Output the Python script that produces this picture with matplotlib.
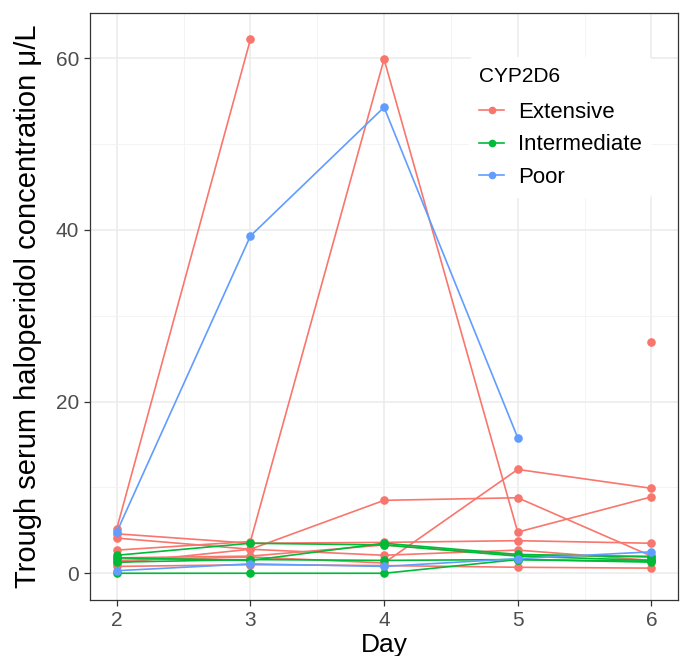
import numpy as np
import matplotlib
matplotlib.use("Agg")
import matplotlib.pyplot as plt
from matplotlib.lines import Line2D

plt.rcParams['font.family'] = ['Liberation Sans', 'DejaVu Sans']

days = [2, 3, 4, 5, 6]
nan = np.nan

# one row per patient, values at days 2..6 (nan = not measured)
extensive = [
    [5.2, 62.2, nan, nan, nan],
    [4.6, 3.5, 3.6, 3.8, 3.5],
    [4.1, 2.8, 8.5, 8.8, 2.0],
    [2.7, 3.7, 59.9, 4.8, 8.9],
    [1.5, 1.9, 1.2, 12.1, 9.9],
    [1.2, 2.8, 2.1, 2.7, 1.5],
    [0.8, 1.0, 0.9, 0.7, 0.6],
    [1.8, 2.0, 3.3, 2.1, 2.0],
    [nan, nan, nan, nan, 27.0],
]
intermediate = [
    [2.1, 3.5, 3.3, 2.0, 1.5],
    [1.8, 1.5, 3.5, 2.2, 1.9],
    [1.3, 1.6, 1.5, 1.6, 1.4],
    [0.0, 0.0, 0.0, 1.6, 1.3],
]
poor = [
    [4.8, 39.3, 54.3, 15.8, nan],
    [0.3, 1.1, 0.8, 1.7, 2.5],
]

groups = ["Extensive", "Intermediate", "Poor"]
colors = ["#F8766D", "#00BA38", "#619CFF"]
yticks = [0, 20, 40, 60]

fig = plt.figure(figsize=(6.83, 6.56), dpi=100)
ax = fig.add_axes([0.1318, 0.0854, 0.861, 0.895])

for rows, col in zip([extensive, intermediate, poor], colors):
    for r in rows:
        ax.plot(days, r, color=col, lw=1.2, marker='o', ms=6.2, mec='none', zorder=3)

ax.set_xlim(1.8, 6.2)
ax.set_ylim(-3.11, 65.3)
ax.set_xticks(days)
ax.set_yticks(yticks)
ax.set_xticks(np.arange(2.5, 6, 1), minor=True)
ax.set_yticks([10, 30, 50], minor=True)
ax.grid(True, which='major', color='#EBEBEB', lw=1.1, zorder=0)
ax.grid(True, which='minor', color='#F2F2F2', lw=0.6, zorder=0)
ax.tick_params(which='minor', length=0)
ax.tick_params(which='major', length=4, width=0.9, color='#333333',
               labelsize=15, labelcolor='#4D4D4D', pad=4)
for s in ax.spines.values():
    s.set_color('#333333')
    s.set_linewidth(0.9)
ax.set_axisbelow(True)

ax.set_xlabel("Day", fontsize=19, labelpad=2)
ax.set_ylabel("Trough serum haloperidol concentration μ/L", fontsize=21, labelpad=10)

handles = [Line2D([0], [0], color=c, lw=1.2, marker='o', ms=5.5, mec='none') for c in colors]
leg = ax.legend(handles, groups, title="CYP2D6", loc='upper left',
                bbox_to_anchor=(0.645, 0.924), frameon=True, fontsize=16,
                title_fontsize=15, alignment='left', handlelength=1.1,
                borderpad=0.45, labelspacing=0.52, handletextpad=0.65,
                borderaxespad=0)
leg._legend_box.sep = 11
leg.get_frame().set_edgecolor('none')
leg.get_frame().set_facecolor('white')
leg.get_frame().set_alpha(1)
leg.set_zorder(5)

fig.savefig("out.png", dpi=100)
